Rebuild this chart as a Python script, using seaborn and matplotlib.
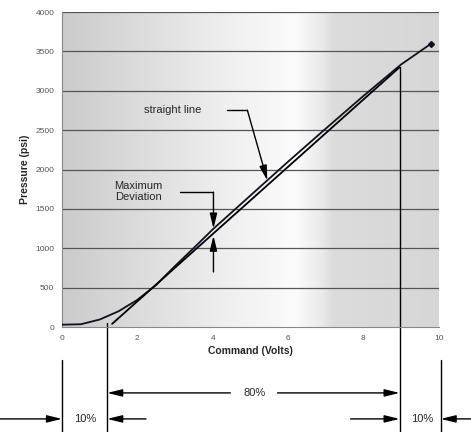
import numpy as np
import matplotlib
matplotlib.use('Agg')
import matplotlib.pyplot as plt
from matplotlib.colors import LinearSegmentedColormap
import seaborn as sns

# transfer curve (command volts -> pressure psi)
volts = [0, 0.5, 1.0, 1.5, 2.0, 2.5, 3.0, 3.5, 4.0, 5.0, 6.0, 7.0, 8.0, 9.0, 9.8]
pressure = [30, 35, 95, 200, 345, 535, 775, 1005, 1240, 1670, 2100, 2520, 2935, 3335, 3600]

# best-fit straight line over the 10%-90% span
line_volts = [1.33, 8.96]
line_pressure = [40, 3300]

x_ticks = [0, 2, 4, 6, 8, 10]
y_ticks = [0, 500, 1000, 1500, 2000, 2500, 3000, 3500, 4000]

sns.set_style('white')
plt.rcParams['font.family'] = ['Liberation Sans', 'DejaVu Sans']

fig = plt.figure(figsize=(4.71, 4.32), dpi=100)
ax = fig.add_axes([0.1316, 0.243, 0.8, 0.729])
ax.set_xlim(0, 10)
ax.set_ylim(0, 4000)

# gradient background
cmap = LinearSegmentedColormap.from_list('bg', [
    (0.0, '#cbcbcb'), (0.45, '#f0f0f0'), (0.62, '#fbfbfb'),
    (0.69, '#eaeaea'), (0.72, '#dcdcdc'), (1.0, '#d6d6d6')])
ax.imshow(np.linspace(0, 1, 256).reshape(1, -1), cmap=cmap, aspect='auto',
          extent=[0, 10, 0, 4000], zorder=0)

for yv in y_ticks[1:]:
    ax.axhline(yv, color='#555555', lw=0.9, zorder=1)

sns.lineplot(x=volts, y=pressure, ax=ax, color='#101020', lw=1.3, zorder=3)
ax.plot(volts[-1], pressure[-1], marker='D', ms=3, color='#101020', zorder=3)
sns.lineplot(x=line_volts, y=line_pressure, ax=ax, color='black', lw=1.3, zorder=3)

ax.set_xticks(x_ticks)
ax.set_yticks(y_ticks)
ax.tick_params(labelsize=6, labelcolor='#555555', length=2, color='#777777')
for s in ['top', 'right']:
    ax.spines[s].set_visible(False)
for s in ['left', 'bottom']:
    ax.spines[s].set_color('#888888')
ax.set_xlabel('Command (Volts)', fontsize=7.5, fontweight='bold', labelpad=3)
ax.set_ylabel('Pressure (psi)', fontsize=7.5, fontweight='bold', labelpad=4)

arr = dict(arrowstyle='-|>,head_length=0.9,head_width=0.22', color='black', lw=1,
           mutation_scale=10, shrinkA=0, shrinkB=0)

# annotations inside plot
ax.text(2.93, 2754, 'straight line', fontsize=8, ha='center', va='center', zorder=4)
ax.plot([4.39, 4.92], [2754, 2754], color='black', lw=1, zorder=4)
ax.annotate('', xy=(5.45, 1860), xytext=(4.92, 2754), arrowprops=arr, zorder=4)

ax.text(2.02, 1720, 'Maximum\nDeviation', fontsize=8, ha='center', va='center',
        linespacing=1.15, zorder=4)
ax.plot([3.14, 4.02], [1713, 1713], color='black', lw=1, zorder=4)
ax.annotate('', xy=(4.02, 1250), xytext=(4.02, 1713), arrowprops=arr, zorder=4)
ax.annotate('', xy=(4.02, 1160), xytext=(4.02, 700), arrowprops=arr, zorder=4)

# span markers below the axes
bot = -1340
ax.plot([0, 0], [-419, bot], color='black', lw=1, clip_on=False)
ax.plot([1.2, 1.2], [50, bot], color='black', lw=1, clip_on=False)
ax.plot([8.96, 8.96], [3300, bot], color='black', lw=1, clip_on=False)
ax.plot([10.05, 10.05], [-419, bot], color='black', lw=1, clip_on=False)

y80 = -837
ax.text(5.1, y80, '80%', fontsize=8, ha='center', va='center')
ax.annotate('', xy=(1.2, y80), xytext=(4.47, y80), arrowprops=arr, annotation_clip=False)
ax.annotate('', xy=(8.96, y80), xytext=(5.72, y80), arrowprops=arr, annotation_clip=False)

y10 = -1167
ax.text(0.61, y10, '10%', fontsize=8, ha='center', va='center')
ax.annotate('', xy=(0, y10), xytext=(-1.65, y10), arrowprops=arr, annotation_clip=False)
ax.annotate('', xy=(1.2, y10), xytext=(2.23, y10), arrowprops=arr, annotation_clip=False)
ax.text(9.55, y10, '10%', fontsize=8, ha='center', va='center')
ax.annotate('', xy=(8.96, y10), xytext=(7.66, y10), arrowprops=arr, annotation_clip=False)
ax.annotate('', xy=(10.05, y10), xytext=(10.88, y10), arrowprops=arr, annotation_clip=False)

fig.savefig('out.png', dpi=100)
